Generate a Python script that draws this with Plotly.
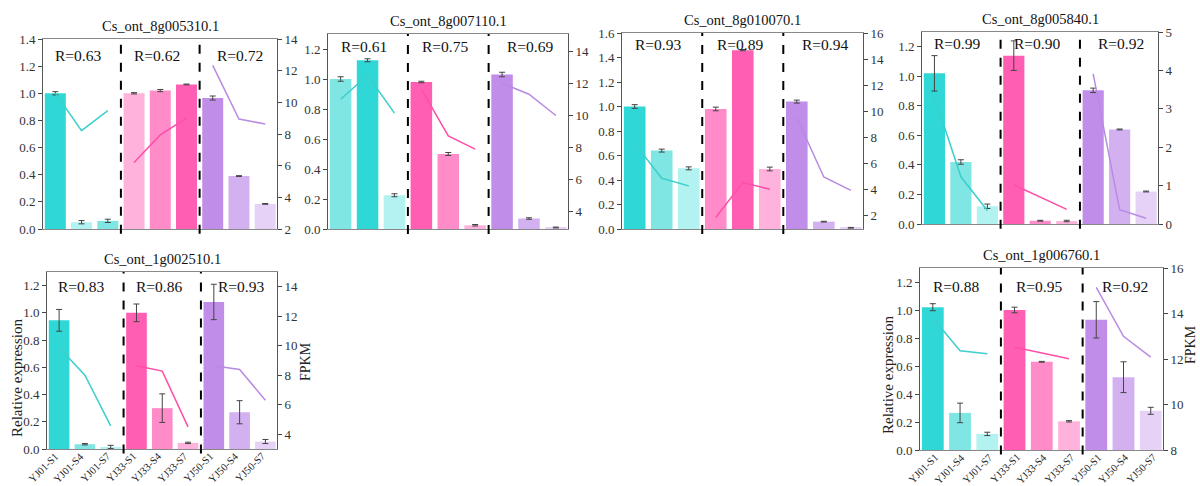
import plotly.graph_objects as go

samples = ["YJ01-S1", "YJ01-S4", "YJ01-S7", "YJ33-S1", "YJ33-S4", "YJ33-S7",
           "YJ50-S1", "YJ50-S4", "YJ50-S7"]
genes = ["Cs_ont_8g005310.1", "Cs_ont_8g007110.1", "Cs_ont_8g010070.1",
         "Cs_ont_8g005840.1", "Cs_ont_1g002510.1", "Cs_ont_1g006760.1"]

# relative expression (bars), error, FPKM (lines), R values
rel_8g005310 = [1.00, 0.05, 0.06, 1.00, 1.02, 1.065, 0.965, 0.39, 0.185]
err_8g005310 = [0.012, 0.012, 0.012, 0.005, 0.008, 0.003, 0.015, 0.003, 0.003]
fpkm_8g005310 = [10.58, 8.21, 9.48, 6.2, 7.94, 9.0, 12.33, 8.95, 8.63]
r_8g005310 = ["0.63", "0.62", "0.72"]

rel_8g007110 = [1.00, 1.125, 0.225, 0.98, 0.50, 0.025, 1.03, 0.07, 0.01]
err_8g007110 = [0.015, 0.01, 0.01, 0.005, 0.01, 0.005, 0.015, 0.005, 0.003]
fpkm_8g007110 = [11.02, 12.52, 10.15, 11.65, 8.73, 7.9, 12.02, 11.33, 10.0]
r_8g007110 = ["0.61", "0.75", "0.69"]

rel_8g010070 = [1.00, 0.64, 0.495, 0.98, 1.46, 0.49, 1.04, 0.06, 0.01]
err_8g010070 = [0.015, 0.012, 0.012, 0.015, 0.005, 0.015, 0.012, 0.003, 0.003]
fpkm_8g010070 = [7.55, 4.88, 4.3, 1.88, 4.55, 4.04, 9.51, 4.98, 3.96]
r_8g010070 = ["0.93", "0.89", "0.94"]

rel_8g005840 = [1.02, 0.42, 0.12, 1.14, 0.022, 0.02, 0.905, 0.64, 0.22]
err_8g005840 = [0.12, 0.015, 0.015, 0.10, 0.003, 0.005, 0.015, 0.003, 0.003]
fpkm_8g005840 = [3.32, 1.23, 0.35, 1.02, 0.71, 0.38, 3.91, 0.37, 0.15]
r_8g005840 = ["0.99", "0.90", "0.92"]

rel_1g002510 = [0.945, 0.035, 0.015, 1.00, 0.30, 0.045, 1.08, 0.27, 0.055]
err_1g002510 = [0.08, 0.005, 0.012, 0.065, 0.105, 0.005, 0.13, 0.085, 0.015]
fpkm_1g002510 = [9.88, 8.0, 4.57, 8.64, 8.28, 4.5, 8.64, 8.39, 6.31]
r_1g002510 = ["0.83", "0.86", "0.93"]

rel_1g006760 = [1.02, 0.265, 0.115, 1.00, 0.63, 0.205, 0.93, 0.52, 0.28]
err_1g006760 = [0.025, 0.07, 0.012, 0.02, 0.003, 0.005, 0.13, 0.11, 0.025]
fpkm_1g006760 = [13.8, 12.36, 12.23, 12.52, 12.26, 12.01, 15.15, 13.0, 12.08]
r_1g006760 = ["0.88", "0.95", "0.92"]

rel_all = [rel_8g005310, rel_8g007110, rel_8g010070, rel_8g005840, rel_1g002510, rel_1g006760]
err_all = [err_8g005310, err_8g007110, err_8g010070, err_8g005840, err_1g002510, err_1g006760]
fpkm_all = [fpkm_8g005310, fpkm_8g007110, fpkm_8g010070, fpkm_8g005840, fpkm_1g002510, fpkm_1g006760]
r_all = [r_8g005310, r_8g007110, r_8g010070, r_8g005840, r_1g002510, r_1g006760]

# layout (pixel boxes) and axis settings
W, H = 1200, 486
boxes = [(43, 277, 39, 229), (328, 568, 34, 229), (622, 863, 33, 229),
         (922, 1158, 32, 224), (47, 277, 272, 449), (920, 1163, 268, 450)]
left_ranges = [(0, 1.4), (0, 1.3), (0, 1.6), (0, 1.3), (0, 1.3), (0, 1.3)]
right_ranges = [(2, 14), (2.9, 15.1), (1, 16), (0, 5), (3, 15), (8, 16)]
right_dticks = [2, 2, 2, 1, 2, 2]
bottom_panel = [False, False, False, False, True, True]
r_ypos = [0.915, 0.935, 0.94, 0.94, 0.92, 0.90]
r_xoff = [-0.15, -0.12, 0.05]
label_xshift = {4: 3, 5: 9}
# axis-title pixel positions for the bottom panels: (left x, left y, right x, right y)
title_pos = {4: (17, 378, 305, 362), 5: (888, 375, 1190, 345)}

# shades per group: dark, medium, light
shades = [["#2fd8d6", "#7fe6e4", "#b2f2f0"],
          ["#ff5eb2", "#ff8cc8", "#ffb3dc"],
          ["#c08ee8", "#d3b0f0", "#e6d2f7"]]
line_colors = ["#3ccfcc", "#ff4ea8", "#b98ae2"]

FONT = "Times New Roman, Liberation Serif, DejaVu Serif, serif"
fig = go.Figure()
layout = {}
shapes = []
annotations = []

for i in range(6):
    n = i + 1
    xa = "x" if n == 1 else f"x{n}"
    ya = "y" if n == 1 else f"y{n}"
    yr = f"y{n + 6}"
    rel, err, fpkm = rel_all[i], err_all[i], fpkm_all[i]
    colors = []
    for g in range(3):
        vals = rel[g * 3:g * 3 + 3]
        order = sorted(range(3), key=lambda k: -vals[k])
        c = [None] * 3
        for rank, k in enumerate(order):
            c[k] = shades[g][rank]
        colors += c
    fig.add_trace(go.Bar(x=list(range(9)), y=rel, width=0.8,
                         marker=dict(color=colors, line=dict(width=0)),
                         error_y=dict(type="data", array=err, color="#444",
                                      thickness=1, width=3),
                         xaxis=xa, yaxis=ya, showlegend=False))
    for g in range(3):
        fig.add_trace(go.Scatter(x=[g * 3, g * 3 + 1, g * 3 + 2],
                                 y=fpkm[g * 3:g * 3 + 3], mode="lines",
                                 line=dict(color=line_colors[g], width=1.5),
                                 xaxis=xa, yaxis=yr, showlegend=False))
    x0, x1, y0, y1 = boxes[i]
    xkey = "xaxis" if n == 1 else f"xaxis{n}"
    ykey = "yaxis" if n == 1 else f"yaxis{n}"
    rkey = f"yaxis{n + 6}"
    xd = dict(domain=[x0 / W, x1 / W], range=[-0.47, 8.45], anchor=ya,
              automargin=False, showticklabels=False,
              showline=True, mirror=True, linecolor="#888", linewidth=1,
              showgrid=False, zeroline=False, tickvals=list(range(9)),
              ticktext=samples, ticks="")
    layout[xkey] = xd
    lo, hi = left_ranges[i]
    yd = dict(domain=[1 - y1 / H, 1 - y0 / H], range=[lo, hi], dtick=0.2,
              tick0=0, tickformat=".1f", anchor=xa, ticks="outside", ticklen=4,
              automargin=False,
              tickcolor="#444", showline=True, linecolor="#555", linewidth=1,
              showgrid=False, zeroline=False,
              tickfont=dict(size=13, color="#333", family=FONT))
    rlo, rhi = right_ranges[i]
    rd = dict(overlaying=ya, side="right", anchor=xa, range=[rlo, rhi],
              dtick=right_dticks[i], tick0=0, ticks="outside", ticklen=4,
              automargin=False,
              tickcolor="#444", showline=True, linecolor="#555", linewidth=1,
              showgrid=False, zeroline=False,
              tickfont=dict(size=13, color="#333", family=FONT))
    if bottom_panel[i]:
        for k, s in enumerate(samples):
            annotations.append(dict(xref=xa, yref=f"{ya} domain", x=k, y=0,
                                    yshift=0, xshift=label_xshift[i],
                                    xanchor="right", yanchor="top", textangle=-45,
                                    text=s, showarrow=False, borderpad=0,
                                    font=dict(size=10.5, color="#222", family=FONT)))
    if i in title_pos:
        lx, ly, rx, ry = title_pos[i]
        annotations.append(dict(xref="paper", yref="paper", x=lx / W, y=1 - ly / H,
                                xanchor="center", yanchor="middle", textangle=-90,
                                text="Relative expression", showarrow=False,
                                font=dict(size=15, color="#222", family=FONT)))
        annotations.append(dict(xref="paper", yref="paper", x=rx / W, y=1 - ry / H,
                                xanchor="center", yanchor="middle", textangle=-90,
                                text="FPKM", showarrow=False,
                                font=dict(size=14, color="#222", family=FONT)))
    layout[ykey] = yd
    layout[rkey] = rd
    for xv in (2.5, 5.5):
        shapes.append(dict(type="line", xref=xa, yref=f"{ya} domain",
                           x0=xv, x1=xv, y0=-0.025, y1=1,
                           line=dict(color="black", width=2, dash="dash")))
    for g in range(3):
        annotations.append(dict(xref=xa, yref=f"{ya} domain", x=g * 3 + 1 + r_xoff[g],
                                y=r_ypos[i], xanchor="center", yanchor="middle",
                                text=f"R={r_all[i][g]}", showarrow=False,
                                font=dict(size=15.5, color="#111", family=FONT)))
    annotations.append(dict(xref=f"{xa} domain", yref=f"{ya} domain", x=0.5,
                            y=1, xanchor="center", yanchor="bottom", yshift=3,
                            text=genes[i], showarrow=False,
                            font=dict(size=14.5, color="#111", family=FONT)))

fig.update_layout(width=W, height=H, margin=dict(l=0, r=0, t=0, b=0),
                  paper_bgcolor="white", plot_bgcolor="white",
                  font=dict(family=FONT), bargap=0.2,
                  shapes=shapes, annotations=annotations, **layout)
fig.write_html("out.html")
